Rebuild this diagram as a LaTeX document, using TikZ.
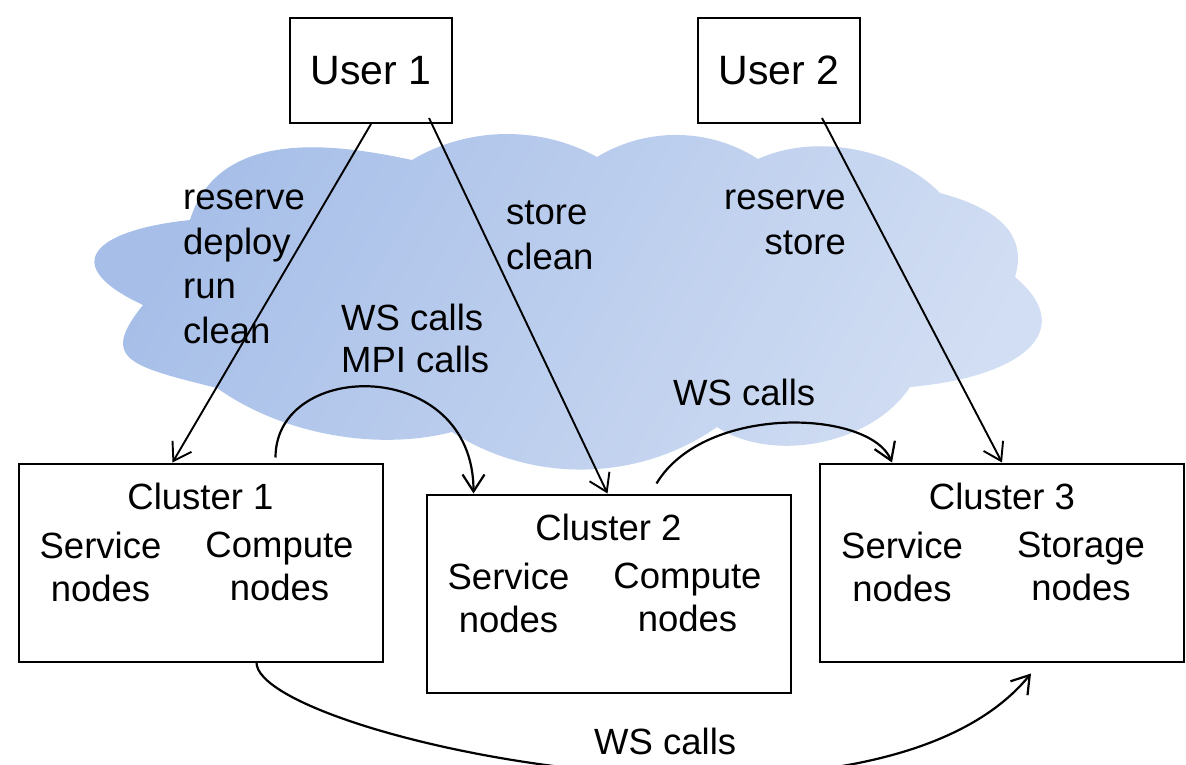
\documentclass[tikz,border=0pt]{standalone}
\usepackage{fontspec}
\setmainfont{Liberation Sans}
\usetikzlibrary{arrows.meta,positioning,calc}

\definecolor{cloudA}{RGB}{166,190,232}
\definecolor{cloudB}{RGB}{210,222,243}

\begin{document}
\begin{tikzpicture}[
  x=1pt, y=1pt,
  userbox/.style={rectangle, draw, line width=2pt, minimum width=162pt, minimum height=105pt, font=\fontsize{41}{49}\selectfont},
  clusterbox/.style={rectangle, draw, line width=2pt, minimum width=364pt, minimum height=198pt},
  heading/.style={font=\fontsize{36.5}{43}\selectfont, inner sep=0pt},
  part/.style={font=\fontsize{36.5}{43}\selectfont, align=center, inner sep=0pt},
  note/.style={font=\fontsize{36.5}{44.5}\selectfont, inner sep=0pt},
  arrow/.style={-{Straight Barb[length=17pt, width=22pt]}, line width=1.9pt},
  call/.style={arrow, line width=2.2pt},
  cloudfill/.style={top color=cloudA, bottom color=cloudB, shading angle=60},
]
\useasboundingbox (0,0) rectangle (1186,764);

% === Cloud ===
\shade[cloudfill] (190,544) to[out=73,in=168,out distance=100pt,in distance=70pt] (412,604)
  to[bend left=30,looseness=0.9] (597,607)
  to[bend left=32,looseness=0.92] (758,605)
  to[bend left=35,looseness=0.87] (940,571)
  to[out=-15,in=73,out distance=50pt,in distance=50pt] (1015,487)
  to[out=-40,in=5,out distance=85pt,in distance=110pt] (910,377)
  to[bend left=45,looseness=0.88] (717,337)
  to[bend left=34,looseness=0.92] (452,332)
  to[bend left=25,looseness=0.84] (217,376)
  to[out=166,in=231,out distance=90pt,in distance=70pt] (143,459)
  to[out=155,in=-174,distance=96pt] (190,544) -- cycle;

% === Users ===
\node[userbox] (u1) at (371,693.5) {User 1};
\node[userbox] (u2) at (779,693.5) {User 2};

% === Clusters ===
\node[clusterbox] (c1) at (200.5,201.5) {};
\node[clusterbox] (c2) at (608.5,170.5) {};
\node[clusterbox] (c3) at (1002,201.5) {};

\node[heading] (c1t) at ([yshift=-34pt]c1.north) {Cluster 1};
\node[part] (c1s) at ([xshift=-100pt,yshift=-4pt]c1.center) {Service\\nodes};
\node[part] (c1c) at ([xshift=79pt,yshift=-4pt]c1.center) {Compute\\nodes};

\node[heading] (c2t) at ([yshift=-34pt]c2.north) {Cluster 2};
\node[part] (c2s) at ([xshift=-100pt,yshift=-4pt]c2.center) {Service\\nodes};
\node[part] (c2c) at ([xshift=79pt,yshift=-4pt]c2.center) {Compute\\nodes};

\node[heading] (c3t) at ([yshift=-34pt]c3.north) {Cluster 3};
\node[part] (c3s) at ([xshift=-100pt,yshift=-4pt]c3.center) {Service\\nodes};
\node[part] (c3g) at ([xshift=79pt,yshift=-4pt]c3.center) {Storage\\nodes};

% === Operation labels (base = last line) ===
\node[note, anchor=base west, align=left] (ops1) at (183,420.5) {reserve\\deploy\\run\\clean};
\node[note, anchor=base west, align=left] (ops2) at (506,494.5) {store\\clean};
\node[note, anchor=base east, align=right] (ops3) at (846,509.5) {reserve\\store};
\node[note, anchor=base west, align=left, font=\fontsize{36.5}{42}\selectfont] (calls1) at (341,391.5) {WS calls\\MPI calls};
\node[note, anchor=base west] (calls2) at (673,358) {WS calls};
\node[note, anchor=base west] (calls3) at (594,10) {WS calls};

% === Connectors ===
\draw[arrow] (u1.south) -- ([xshift=-28pt]c1.north);
\draw[arrow] ([xshift=58pt,yshift=6pt]u1.south) -- ([xshift=-1pt]c2.north);
\draw[arrow] ([xshift=43pt,yshift=6pt]u2.south) -- (c3.north);

\draw[call] ([xshift=75pt,yshift=5pt]c1.north) .. controls +(0,99) and +(0,137) .. ([xshift=-135pt]c2.north);
\draw[call] ([xshift=48pt,yshift=10pt]c2.north) .. controls +(48,80) and +(-22,53) .. ([xshift=-110pt]c3.north);
\draw[call] ([xshift=56pt]c1.south) .. controls +(0,-73) and +(-161,-197) .. ([xshift=29pt,yshift=-11pt]c3.south);

\end{tikzpicture}
\end{document}
